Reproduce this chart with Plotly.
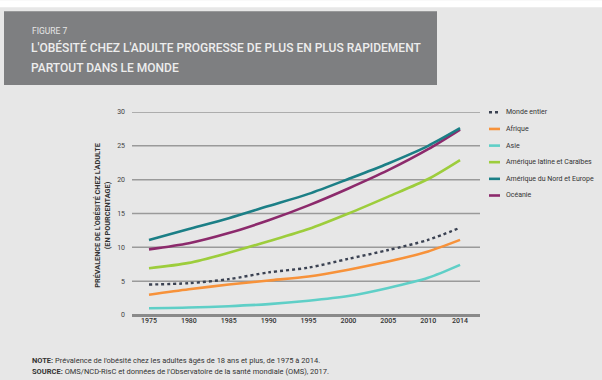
import plotly.graph_objects as go

# Adult obesity prevalence (%) by region, 1975-2014
years = [1975, 1980, 1985, 1990, 1995, 2000, 2005, 2010, 2014]
monde = [4.5, 4.7, 5.3, 6.3, 7.0, 8.3, 9.6, 11.1, 12.9]
afrique = [3.0, 3.8, 4.5, 5.1, 5.7, 6.7, 7.9, 9.4, 11.1]
asie = [1.0, 1.1, 1.3, 1.6, 2.1, 2.8, 4.0, 5.5, 7.4]
amerique_latine = [6.9, 7.7, 9.2, 10.9, 12.7, 15.0, 17.5, 20.1, 22.9]
amerique_nord_europe = [11.1, 12.7, 14.3, 16.1, 17.9, 20.1, 22.4, 25.0, 27.6]
oceanie = [9.7, 10.6, 12.1, 14.0, 16.2, 18.7, 21.4, 24.5, 27.4]

series_names = ["Monde entier", "Afrique", "Asie", "Amérique latine et Caraïbes",
                "Amérique du Nord et Europe", "Océanie"]
series_values = [monde, afrique, asie, amerique_latine, amerique_nord_europe, oceanie]
series_colors = ["#3b4252", "#f7923a", "#5fcfc7", "#9dcd3c", "#1b7f86", "#8c2a6c"]
series_dash = ["dot", "solid", "solid", "solid", "solid", "solid"]

x_ticks = [1975, 1980, 1985, 1990, 1995, 2000, 2005, 2010, 2014]
y_ticks = [0, 5, 10, 15, 20, 25, 30]

W, H = 602, 380
L, R, T, B = 132, 122, 112, 64.5
PW, PH = W - L - R, H - T - B

FONT = "Roboto, Liberation Sans Narrow, sans-serif"


def px(xp):
    return (xp - L) / PW


def py(yp):
    return (H - B - yp) / PH


fig = go.Figure()

# draw order: back to front
order = [0, 1, 2, 3, 5, 4]
for i in order:
    fig.add_trace(go.Scatter(
        x=years, y=series_values[i], mode="lines", name=series_names[i],
        line=dict(color=series_colors[i], width=2.6 if i else 2.4,
                  dash=series_dash[i], shape="spline", smoothing=0.8),
        showlegend=False,
    ))

shapes = []
annotations = []

# page background pieces and title band
shapes.append(dict(type="rect", xref="paper", yref="paper", x0=px(0), x1=px(W),
                   y0=py(0), y1=py(7), fillcolor="white", line_width=0, layer="below"))
shapes.append(dict(type="rect", xref="paper", yref="paper", x0=px(4), x1=px(437),
                   y0=py(11), y1=py(85), fillcolor="#7e7f81", line_width=0, layer="below"))

# horizontal reference lines at each y tick
for v in y_ticks[1:]:
    shapes.append(dict(type="line", xref="paper", yref="y", x0=0, x1=1, y0=v, y1=v,
                       line=dict(color="#9a9a9a", width=1.5), layer="below"))

annotations.append(dict(text="FIGURE 7", xref="paper", yref="paper", x=px(30), y=py(31),
                        xanchor="left", yanchor="middle", showarrow=False,
                        font=dict(family=FONT, size=8.5, color="#e6e6e6")))
annotations.append(dict(text="L'OBÉSITÉ CHEZ L'ADULTE PROGRESSE DE PLUS EN PLUS RAPIDEMENT",
                        xref="paper", yref="paper", x=px(29), y=py(47.5),
                        xanchor="left", yanchor="middle", showarrow=False,
                        font=dict(family=FONT, size=12, color="#ededed", weight=500)))
annotations.append(dict(text="PARTOUT DANS LE MONDE",
                        xref="paper", yref="paper", x=px(29), y=py(67.5),
                        xanchor="left", yanchor="middle", showarrow=False,
                        font=dict(family=FONT, size=12, color="#ededed", weight=500)))

# y-axis title
annotations.append(dict(text="<b>PRÉVALENCE DE L'OBÉSITÉ CHEZ L'ADULTE</b><br><b>(EN POURCENTAGE)</b>",
                        xref="paper", yref="paper", x=px(102), y=py(216),
                        xanchor="center", yanchor="middle", showarrow=False, textangle=-90,
                        font=dict(family=FONT, size=7.3, color="#333333")))

# legend
legend_rows = [112.3, 129, 145.7, 162.3, 179, 195.7]
for name, color, dash, yy in zip(series_names, series_colors, series_dash, legend_rows):
    shapes.append(dict(type="line", xref="paper", yref="paper", x0=px(489), x1=px(500),
                       y0=py(yy), y1=py(yy),
                       line=dict(color=color, width=2.6, dash=dash)))
    annotations.append(dict(text=name, xref="paper", yref="paper", x=px(504), y=py(yy),
                            xanchor="left", yanchor="middle", showarrow=False,
                            font=dict(family=FONT, size=7, color="#333333")))

# notes
annotations.append(dict(
    text="<b>NOTE:</b> Prévalence de l'obésité chez les adultes âgés de 18 ans et plus, de 1975 à 2014.",
    xref="paper", yref="paper", x=px(30), y=py(361), xanchor="left", yanchor="middle",
    showarrow=False, font=dict(family=FONT, size=7.5, color="#333333")))
annotations.append(dict(
    text="<b>SOURCE:</b> OMS/NCD-RisC et données de l'Observatoire de la santé mondiale (OMS), 2017.",
    xref="paper", yref="paper", x=px(30), y=py(372), xanchor="left", yanchor="middle",
    showarrow=False, font=dict(family=FONT, size=7.5, color="#333333")))

fig.update_layout(
    width=W, height=H,
    margin=dict(l=L, r=R, t=T, b=B, pad=0),
    paper_bgcolor="#e7e7e7", plot_bgcolor="rgba(0,0,0,0)",
    shapes=shapes, annotations=annotations,
    showlegend=False,
    font=dict(family=FONT, color="#444444"),
)
fig.update_xaxes(
    range=[1972.87, 2016.5], tickvals=x_ticks, ticktext=[str(v) for v in x_ticks],
    showgrid=False, zeroline=False, showline=False, ticks="",
    tickfont=dict(family=FONT, size=7, color="#333333", weight=500),
)
fig.update_yaxes(
    range=[0, 30], tickvals=y_ticks, ticktext=[str(v) for v in y_ticks],
    showgrid=False,
    zeroline=True, zerolinecolor="#8a8a8a", zerolinewidth=2.6,
    showline=False, ticks="", ticklabelstandoff=6,
    tickfont=dict(family=FONT, size=7, color="#444444"),
)

fig.write_html("out.html")
